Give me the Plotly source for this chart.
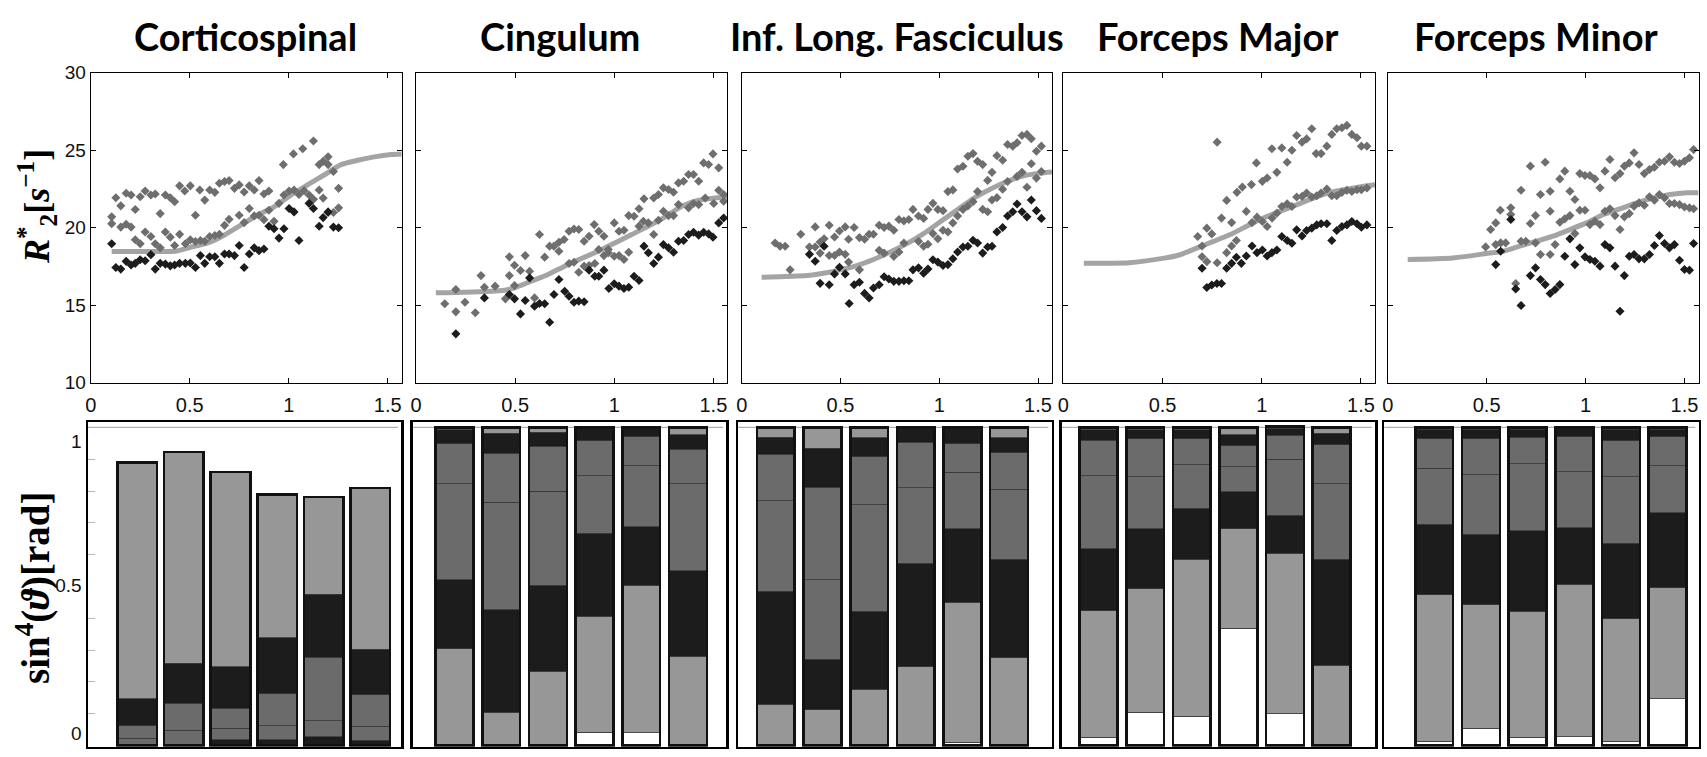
import plotly.graph_objects as go

TRACTS = ["Corticospinal", "Cingulum", "Inf. Long. Fasciculus", "Forceps Major", "Forceps Minor"]
TITLE_X_PX = [246, 560, 897, 1218, 1536]

# ---------------- top row: R2* vs angle ----------------
X_TICKS = [0, 0.5, 1, 1.5]
X_TICKTEXT = ["0", "0.5", "1", "1.5"]
Y_TICKS = [10, 15, 20, 25, 30]

cst_gray_x = [0.106,0.127,0.152,0.179,0.204,0.225,0.25,0.275,0.304,0.326,0.351,0.377,0.402,0.424,0.449,0.475,0.503,0.529,0.551,0.576,0.601,0.627,0.650,0.676,0.699,0.726,0.75,0.775,0.801,0.826,0.85,0.875,0.9,0.973,1.024,1.071,1.125,1.154,1.174,1.199,1.199,1.226,1.252,
              0.106,0.152,0.179,0.204,0.225,0.25,0.275,0.304,0.326,0.351,0.377,0.402,0.424,0.449,0.478,0.503,0.529,0.554,0.576,0.601,0.627,0.650,0.676,0.699,0.75,0.775,0.801,0.826,0.85,0.875,0.9,0.926,0.951,0.976,1.002,1.027,1.052,1.078,1.103,1.125,1.154,1.174,1.199,1.226,1.252]
cst_gray_y = [20.70,21.93,21.41,22.22,22.11,21.17,22.0,22.37,22.11,22.17,20.91,22.11,21.93,21.67,22.70,22.37,22.70,20.80,22.43,21.78,22.43,22.28,22.87,22.98,23.04,22.54,22.76,22.30,22.70,22.43,23.04,22.17,22.37,24.07,24.76,25.09,25.59,24.07,24.28,24.57,24.07,23.63,22.54,
              20.26,20.04,20.22,20.04,19.22,18.96,19.72,19.43,18.96,18.70,19.72,19.39,18.85,19.57,18.96,19.22,19.11,19.17,19.13,19.43,19.50,19.57,20.15,20.54,20.80,20.33,21.24,20.76,20.80,20.52,21.13,20.41,21.57,22.11,22.37,22.43,22.15,22.39,22.11,21.83,22.43,21.91,20.98,20.98,21.28]
cst_dark_x = [0.106,0.127,0.152,0.179,0.204,0.225,0.25,0.275,0.304,0.326,0.351,0.377,0.402,0.424,0.449,0.478,0.503,0.529,0.554,0.576,0.601,0.627,0.650,0.676,0.699,0.726,0.75,0.775,0.801,0.826,0.85,0.875,0.9,0.926,0.951,0.976,1.002,1.027,1.052,1.103,1.125,1.154,1.174,1.199,1.226,1.252]
cst_dark_y = [18.96,17.43,17.33,17.83,17.59,17.70,17.93,17.87,18.26,17.33,17.70,17.65,17.54,17.59,17.70,17.70,17.72,17.43,18.20,17.70,18.13,18.13,17.70,18.30,18.30,18.20,18.85,17.43,18.30,18.70,18.52,18.63,20.09,19.93,19.33,19.93,21.24,21.02,19.17,21.57,21.24,20.09,20.65,21.02,20.04,20.0]
cst_fit_x = [0.106,0.25,0.436,0.503,0.588,0.672,0.757,0.841,0.926,1.01,1.095,1.179,1.264,1.348,1.432,1.517,1.5708]
cst_fit_y = [18.46,18.46,18.50,18.74,19.0,19.5,20.15,20.8,21.35,22.1,22.76,23.4,24.07,24.35,24.57,24.72,24.76]

cing_gray_x = [0.145,0.201,0.201,0.247,0.299,0.328,0.345,0.399,0.451,0.471,0.471,0.497,0.497,0.527,0.551,0.573,0.598,0.623,0.649,0.674,0.696,0.721,0.721,0.747,0.772,0.772,0.797,0.797,0.821,0.821,0.848,0.848,0.873,0.873,0.899,0.902,0.922,0.922,0.948,0.948,0.970,0.970,1.0,1.0,1.024,1.024,1.049,1.049,1.073,1.073,1.100,1.125,1.125,1.150,1.147,1.172,1.199,1.199,1.223,1.223,1.248,1.248,1.274,1.274,1.299,1.299,1.324,1.324,1.350,1.375,1.375,1.400,1.400,1.426,1.426,1.451,1.459,1.476,1.498,1.502,1.527,1.527,1.552,1.552]
cing_gray_y = [15.09,16.01,14.57,15.19,14.51,16.91,16.16,16.23,15.41,18.12,16.91,17.58,16.27,17.24,18.20,17.19,15.47,19.56,18.10,18.81,18.81,18.48,19.06,19.24,19.77,17.69,19.92,17.77,19.88,17.13,19.13,17.52,19.45,17.56,20.20,17.69,19.77,18.59,19.45,18.20,18.59,18.38,20.31,18.16,19.77,18.20,19.84,17.95,20.78,18.42,20.74,21.22,20.10,21.86,20.42,20.31,21.92,19.56,22.14,20.48,22.57,21.06,22.46,20.78,22.29,20.78,22.89,21.49,23.0,23.43,21.28,23.43,21.56,23.0,21.49,24.18,21.92,24.08,24.76,21.56,23.86,22.42,22.14,21.71]
cing_dark_x = [0.201,0.345,0.471,0.497,0.527,0.551,0.573,0.598,0.623,0.649,0.674,0.696,0.721,0.750,0.772,0.797,0.821,0.848,0.873,0.902,0.922,0.948,0.973,1.0,1.024,1.049,1.073,1.100,1.125,1.150,1.172,1.199,1.223,1.248,1.274,1.299,1.324,1.350,1.375,1.400,1.426,1.451,1.476,1.498,1.527,1.552]
cing_dark_y = [13.15,15.47,15.69,15.41,14.44,15.30,16.76,14.94,15.11,15.09,13.90,15.69,16.66,15.90,15.58,15.19,15.26,15.22,17.26,16.87,16.87,17.26,16.08,16.38,16.23,16.08,16.16,16.87,16.59,18.81,18.38,17.69,18.10,18.91,18.70,18.42,19.13,19.17,19.56,19.71,19.52,19.71,19.60,19.39,20.31,20.63]
cing_fit_x = [0.1,0.243,0.446,0.497,0.581,0.666,0.75,0.834,0.919,1.003,1.088,1.172,1.257,1.341,1.426,1.51,1.5708]
cing_fit_y = [15.80,15.84,15.97,16.12,16.55,16.98,17.52,18.01,18.48,19.02,19.56,20.10,20.70,21.39,21.77,21.92,21.99]

ilf_gray_x = [0.169,0.194,0.220,0.245,0.299,0.343,0.372,0.372,0.397,0.397,0.417,0.443,0.443,0.470,0.470,0.495,0.495,0.524,0.524,0.541,0.569,0.541,0.596,0.596,0.622,0.645,0.667,0.696,0.696,0.721,0.721,0.745,0.770,0.770,0.796,0.796,0.821,0.821,0.846,0.867,0.895,0.895,0.921,0.921,0.943,0.943,0.968,0.968,0.993,0.993,1.019,1.019,1.044,1.044,1.069,1.069,1.093,1.093,1.120,1.120,1.145,1.145,1.171,1.171,1.194,1.194,1.220,1.220,1.245,1.245,1.267,1.267,1.292,1.292,1.321,1.321,1.346,1.346,1.372,1.394,1.394,1.419,1.419,1.444,1.444,1.466,1.466,1.492,1.492,1.517,1.517]
ilf_gray_y = [19.01,18.80,18.80,17.28,19.58,18.75,20.05,18.75,19.08,18.36,19.29,20.16,18.21,18.21,19.40,19.79,18.43,20.05,18.28,17.78,20.01,19.25,19.36,17.28,19.25,19.58,19.58,20.16,18.54,20.01,18.36,20.10,19.84,18.15,20.53,18.43,20.44,19.01,20.53,21.18,20.75,19.12,20.60,18.80,21.18,18.93,21.57,19.62,21.18,19.29,21.10,19.84,22.33,19.73,22.44,20.31,23.79,20.75,23.96,21.18,24.61,21.40,24.78,21.68,24.28,22.33,24.07,21.18,23.05,21.03,23.57,21.79,24.65,21.94,24.35,22.48,25.37,22.98,25.26,25.48,23.31,25.95,23.57,26.02,22.61,25.74,24.13,24.93,23.20,25.26,23.63]
ilf_dark_x = [0.343,0.372,0.397,0.417,0.443,0.470,0.495,0.524,0.544,0.569,0.596,0.622,0.645,0.667,0.696,0.721,0.745,0.770,0.796,0.821,0.846,0.867,0.895,0.921,0.943,0.968,0.993,1.019,1.044,1.069,1.093,1.120,1.145,1.171,1.194,1.220,1.245,1.267,1.292,1.321,1.346,1.372,1.394,1.419,1.444,1.466,1.492,1.517]
ilf_dark_y = [18.28,17.84,16.41,18.80,16.32,17.02,17.45,17.02,15.11,16.32,16.48,15.76,15.46,16.11,16.32,16.84,16.69,16.54,16.54,16.58,16.58,17.28,17.41,17.06,17.34,17.93,17.78,17.56,17.62,18.0,18.43,18.75,18.80,19.19,19.01,18.36,18.75,18.80,19.73,20.01,20.75,21.03,21.53,21.03,20.70,21.79,21.10,20.60]
ilf_fit_x = [0.101,0.329,0.414,0.498,0.583,0.667,0.752,0.836,0.921,1.005,1.090,1.174,1.258,1.343,1.427,1.512,1.5708]
ilf_fit_y = [16.80,16.91,17.06,17.28,17.56,17.95,18.43,18.97,19.62,20.38,21.14,21.90,22.48,22.98,23.35,23.52,23.59]

fmaj_gray_x = [0.677,0.699,0.699,0.723,0.723,0.748,0.775,0.775,0.797,0.823,0.823,0.848,0.848,0.872,0.875,0.902,0.922,0.948,0.951,0.973,0.976,1.003,1.003,1.027,1.027,1.051,1.052,1.076,1.076,1.101,1.101,1.128,1.128,1.152,1.152,1.176,1.176,1.203,1.203,1.226,1.226,1.252,1.252,1.274,1.277,1.299,1.299,1.328,1.328,1.353,1.353,1.378,1.378,1.404,1.404,1.429,1.429,1.454,1.454,1.480,1.480,1.502,1.502,1.530,1.530]
fmaj_gray_y = [19.43,18.82,18.13,19.97,17.81,19.60,25.52,17.74,20.62,21.76,18.39,20.33,18.82,19.17,22.28,22.62,21.05,22.78,20.33,24.18,20.68,22.99,20.40,23.21,20.08,25.09,20.62,23.57,20.94,25.15,21.37,24.22,21.54,25.0,21.37,25.95,21.98,25.52,22.02,25.73,22.24,26.38,21.98,24.78,22.06,24.78,22.24,25.26,22.49,26.02,22.06,26.38,22.06,26.45,22.28,26.60,22.41,26.02,22.34,25.80,22.45,25.26,22.45,25.26,22.56]
fmaj_dark_x = [0.699,0.723,0.748,0.774,0.797,0.823,0.848,0.872,0.897,0.922,0.951,0.976,1.003,1.027,1.051,1.076,1.101,1.128,1.152,1.176,1.203,1.226,1.252,1.277,1.299,1.328,1.353,1.378,1.404,1.429,1.454,1.480,1.502,1.530]
fmaj_dark_y = [17.38,16.14,16.30,16.40,16.40,17.38,17.70,18.09,17.70,18.17,18.82,18.39,18.56,18.17,18.39,18.56,19.43,19.17,19.0,19.86,19.47,19.82,19.97,20.18,20.25,20.25,19.17,19.82,20.08,20.18,20.40,20.25,20.03,20.18]
fmaj_fit_x = [0.103,0.331,0.5,0.584,0.669,0.753,0.838,0.922,1.007,1.091,1.176,1.260,1.345,1.429,1.514,1.5708]
fmaj_fit_y = [17.70,17.74,18.02,18.24,18.67,19.10,19.54,20.08,20.62,21.05,21.48,21.91,22.28,22.49,22.67,22.78]

fmin_gray_x = [0.495,0.520,0.546,0.546,0.569,0.571,0.596,0.622,0.622,0.647,0.674,0.674,0.698,0.721,0.721,0.747,0.747,0.772,0.772,0.796,0.821,0.821,0.821,0.846,0.870,0.870,0.895,0.895,0.921,0.921,0.946,0.946,0.971,0.971,0.997,0.997,1.022,1.022,1.047,1.047,1.073,1.073,1.098,1.098,1.123,1.123,1.149,1.149,1.174,1.174,1.196,1.196,1.221,1.221,1.245,1.245,1.270,1.270,1.297,1.297,1.323,1.323,1.348,1.348,1.373,1.373,1.399,1.399,1.424,1.424,1.449,1.449,1.475,1.475,1.5,1.5,1.525,1.525,1.546,1.546]
fmin_gray_y = [18.76,19.88,20.31,18.91,21.13,19.02,19.02,21.28,20.85,16.40,22.42,19.13,19.13,23.97,20.27,20.78,19.02,22.14,18.27,24.22,22.35,21.06,18.27,18.91,23.15,20.35,23.65,20.57,22.35,20.78,21.82,19.62,23.49,21.13,23.37,21.13,23.37,20.20,23.15,20.42,22.57,20.20,23.65,21.06,24.40,21.22,23.22,20.78,23.49,19.88,23.97,20.70,24.18,20.91,24.83,21.39,24.08,21.60,23.49,21.45,23.75,21.99,23.90,21.77,24.22,22.14,24.29,21.92,24.57,21.56,24.22,21.56,24.14,21.49,24.29,21.34,24.51,21.28,25.04,21.22]
fmin_dark_x = [0.546,0.571,0.622,0.647,0.674,0.721,0.747,0.772,0.796,0.821,0.846,0.870,0.895,0.921,0.946,0.971,0.997,1.022,1.047,1.073,1.098,1.123,1.149,1.174,1.196,1.221,1.245,1.270,1.297,1.323,1.348,1.373,1.399,1.424,1.449,1.475,1.5,1.525,1.546]
fmin_dark_y = [17.62,18.48,20.53,16.05,14.98,16.91,17.41,16.66,16.33,15.75,16.01,16.33,18.16,19.28,17.62,18.70,18.12,17.95,17.84,17.52,18.91,18.70,17.52,14.61,16.91,18.16,18.27,17.99,17.99,18.27,18.85,19.49,18.98,18.70,18.91,17.90,17.30,17.26,18.98]
fmin_fit_x = [0.101,0.329,0.498,0.583,0.667,0.752,0.836,0.921,1.005,1.090,1.174,1.258,1.343,1.427,1.512,1.5708]
fmin_fit_y = [17.95,18.05,18.33,18.48,18.81,19.13,19.45,19.88,20.31,20.85,21.22,21.60,21.92,22.14,22.25,22.25]

# ---------------- bottom row: stacked angle distributions ----------------
BAR_POS = [1, 2, 3, 4, 5, 6]
BAR_TICKVALS = [0.038, 0.504, 0.955]
BAR_TICKTEXT = ["0", "0.5", "1"]
BAR_MINOR = [0.1, 0.2, 0.3, 0.4, 0.6, 0.7, 0.8, 0.9]

# layers listed bottom -> top
cst_layers = [
    [0, 0, 0.018, 0.018, 0.028, 0.016],
    [0.023, 0.047, 0.036, 0.044, 0.050, 0.045],
    [0.039, 0.085, 0.063, 0.100, 0.200, 0.098],
    [0.085, 0.127, 0.130, 0.177, 0.197, 0.143],
    [0.742, 0.664, 0.613, 0.450, 0.306, 0.508],
]
cing_layers = [
    [0, 0, 0, 0.042, 0.040, 0],
    [0.304, 0.104, 0.233, 0.364, 0.464, 0.281],
    [0.217, 0.323, 0.270, 0.261, 0.1835, 0.269],
    [0.302, 0.337, 0.296, 0.181, 0.1925, 0.273],
    [0.125, 0.155, 0.141, 0.110, 0.091, 0.109],
    [0.044, 0.062, 0.044, 0.042, 0.029, 0.045],
    [0.008, 0.019, 0.016, 0, 0, 0.023],
]
ilf_layers = [
    [0, 0, 0, 0, 0.010, 0],
    [0.129, 0.1125, 0.177, 0.247, 0.44, 0.275],
    [0.355, 0.1585, 0.245, 0.326, 0.231, 0.31],
    [0.285, 0.25, 0.334, 0.237, 0.178, 0.22],
    [0.146, 0.29, 0.152, 0.143, 0.089, 0.116],
    [0.054, 0.123, 0.059, 0.047, 0.052, 0.046],
    [0.031, 0.066, 0.033, 0, 0, 0.033],
]
fmaj_layers = [
    [0.026, 0.104, 0.092, 0.368, 0.099, 0],
    [0.397, 0.388, 0.493, 0.314, 0.505, 0.252],
    [0.195, 0.19, 0.16, 0.115, 0.12, 0.333],
    [0.23, 0.162, 0.137, 0.08, 0.176, 0.238],
    [0.112, 0.12, 0.082, 0.066, 0.076, 0.123],
    [0.032, 0.028, 0.028, 0.034, 0.021, 0.035],
    [0.008, 0.008, 0.008, 0.023, 0.005, 0.019],
]
fmin_layers = [
    [0.0125, 0.054, 0.026, 0.028, 0.0125, 0.146],
    [0.4615, 0.389, 0.396, 0.479, 0.3855, 0.349],
    [0.222, 0.221, 0.253, 0.178, 0.237, 0.236],
    [0.176, 0.187, 0.21, 0.176, 0.209, 0.149],
    [0.092, 0.113, 0.084, 0.11, 0.114, 0.091],
    [0.03, 0.03, 0.025, 0.029, 0.036, 0.023],
    [0.006, 0.006, 0.006, 0, 0.006, 0.006],
]

WHITE, LIGHT, MED, DARK = "#ffffff", "#979797", "#6b6b6b", "#1c1c1c"
CST_COLORS = [DARK, MED, MED, DARK, LIGHT]
STD_COLORS = [WHITE, LIGHT, DARK, MED, MED, DARK, LIGHT]

scatter_sets = [
    (cst_gray_x, cst_gray_y, cst_dark_x, cst_dark_y, cst_fit_x, cst_fit_y),
    (cing_gray_x, cing_gray_y, cing_dark_x, cing_dark_y, cing_fit_x, cing_fit_y),
    (ilf_gray_x, ilf_gray_y, ilf_dark_x, ilf_dark_y, ilf_fit_x, ilf_fit_y),
    (fmaj_gray_x, fmaj_gray_y, fmaj_dark_x, fmaj_dark_y, fmaj_fit_x, fmaj_fit_y),
    (fmin_gray_x, fmin_gray_y, fmin_dark_x, fmin_dark_y, fmin_fit_x, fmin_fit_y),
]
bar_sets = [
    (cst_layers, CST_COLORS),
    (cing_layers, STD_COLORS),
    (ilf_layers, STD_COLORS),
    (fmaj_layers, STD_COLORS),
    (fmin_layers, STD_COLORS),
]

# ---------------- layout geometry (pixels) ----------------
W, H = 1707, 757
TOP_X = [(90.7, 401.7), (416, 727.4), (741.7, 1052), (1063.4, 1375), (1387.7, 1698.5)]
BOT_X = [(88, 401), (412.6, 726.2), (738, 1051.5), (1061.7, 1375), (1384.3, 1698.5)]
TOP_Y = (72.7, 382.7)
BOT_Y = (422.3, 746.7)
BAR_RANGES = [(-0.06, 6.66), (0.10, 6.82), (0.19, 6.91), (0.21, 6.93), (-0.07, 6.66)]
BAR_WIDTHS = [0.85, 0.81, 0.81, 0.81, 0.81]
BAR_YRANGE = [-0.004, 1.016]


def px_dom_x(a, b):
    return [a / W, b / W]


def px_dom_y(top, bottom):
    return [1 - bottom / H, 1 - top / H]


TICK_FONT = dict(family="Liberation Sans Narrow, Arial Narrow, Liberation Sans, Arial", size=19, color="#111")

fig = go.Figure()
layout = dict(
    template="none",
    width=W, height=H, margin=dict(l=0, r=0, t=0, b=0, autoexpand=False),
    paper_bgcolor="white", plot_bgcolor="white",
    barmode="stack", showlegend=False, bargap=0,
)
shapes = []
annotations = []

for i in range(5):
    t = i + 1
    b = i + 6
    o = i + 11  # overlay axis for bar outlines
    gx, gy, dx, dy, fx, fy = scatter_sets[i]
    fig.add_trace(go.Scatter(x=fx, y=fy, mode="lines", xaxis=f"x{t}", yaxis=f"y{t}",
                             line=dict(color="#a4a4a4", width=5, shape="spline", smoothing=0.6),
                             hoverinfo="skip"))
    fig.add_trace(go.Scatter(x=gx, y=gy, mode="markers", xaxis=f"x{t}", yaxis=f"y{t}",
                             marker=dict(symbol="diamond", size=7, color="#6e6e6e", line=dict(width=0)),
                             hoverinfo="skip"))
    fig.add_trace(go.Scatter(x=dx, y=dy, mode="markers", xaxis=f"x{t}", yaxis=f"y{t}",
                             marker=dict(symbol="diamond", size=7, color="#1c1c1c", line=dict(width=0)),
                             hoverinfo="skip"))

    layout[f"xaxis{t}"] = dict(
        domain=px_dom_x(*TOP_X[i]), anchor=f"y{t}", range=[0, 1.5708], automargin=False,
        tickmode="array", tickvals=X_TICKS, ticktext=X_TICKTEXT,
        ticks="inside", ticklen=5, tickcolor="#000", showline=True, linecolor="#000",
        linewidth=1, mirror="ticks", showgrid=False, zeroline=False,
        tickfont=dict(TICK_FONT, size=20), ticklabelstandoff=4,
    )
    layout[f"yaxis{t}"] = dict(
        domain=px_dom_y(*TOP_Y), anchor=f"x{t}", range=[10, 30], automargin=False,
        tickmode="array", tickvals=Y_TICKS, ticks="inside", ticklen=5, tickcolor="#000",
        showline=True, linecolor="#000", linewidth=1, mirror="ticks", showgrid=False,
        zeroline=False, showticklabels=(i == 0), tickfont=TICK_FONT,
    )

    layers, colors = bar_sets[i]
    for vals, col in zip(layers, colors):
        fig.add_trace(go.Bar(x=BAR_POS, y=vals, xaxis=f"x{b}", yaxis=f"y{b}",
                             marker=dict(color=col, line=dict(color="#3a3a3a", width=0.8)),
                             width=BAR_WIDTHS[i], hoverinfo="skip"))
    totals = [sum(col) for col in zip(*layers)]
    fig.add_trace(go.Bar(x=BAR_POS, y=totals, xaxis=f"x{b}", yaxis=f"y{o}",
                         marker=dict(color="rgba(0,0,0,0)", line=dict(color="#111", width=2.6)),
                         width=BAR_WIDTHS[i], hoverinfo="skip"))

    layout[f"xaxis{b}"] = dict(
        domain=px_dom_x(*BOT_X[i]), anchor=f"y{b}", range=list(BAR_RANGES[i]), automargin=False,
        showticklabels=False, ticks="", showline=True, linecolor="#000", linewidth=2.5,
        mirror=True, showgrid=False, zeroline=False,
    )
    ydict = dict(
        domain=px_dom_y(*BOT_Y), anchor=f"x{b}", range=BAR_YRANGE, automargin=False,
        showline=True, linecolor="#000", linewidth=2.5, mirror=True, showgrid=False,
        zeroline=False, ticks="",
    )
    if i == 0:
        ydict.update(tickmode="array", tickvals=BAR_TICKVALS, ticktext=BAR_TICKTEXT,
                     showticklabels=True, tickfont=TICK_FONT,
                     minor=dict(tickmode="array", tickvals=BAR_MINOR, ticks="inside",
                                ticklen=7, tickcolor="#b5b5b5", tickwidth=1, showgrid=False))
    else:
        ydict.update(showticklabels=False)
    layout[f"yaxis{b}"] = ydict
    layout[f"yaxis{o}"] = dict(overlaying=f"y{b}", anchor=f"x{b}", range=BAR_YRANGE,
                               visible=False, showgrid=False, zeroline=False, automargin=False)

    shapes.append(dict(type="line", xref=f"x{b} domain", yref=f"y{b}", x0=0.0, x1=0.99,
                       y0=1.0, y1=1.0, line=dict(color="#b0b0b0", width=1.2), layer="below"))

    annotations.append(dict(text=TRACTS[i], x=TITLE_X_PX[i] / W, y=1 - 36 / H, xref="paper", yref="paper",
                            showarrow=False, xanchor="center", yanchor="middle",
                            font=dict(family="Lato, Open Sans, sans-serif", size=38, color="#000", weight=700)))

annotations.append(dict(text="<i>R</i><sup>*</sup><sub>2</sub>[<i>s</i><sup>−1</sup>]",
                        x=37 / W, y=1 - 207 / H, xref="paper", yref="paper", textangle=-90,
                        showarrow=False, xanchor="center", yanchor="middle",
                        font=dict(family="Liberation Serif, DejaVu Serif, serif", size=36, color="#000", weight=700)))
annotations.append(dict(text="sin<sup>4</sup>(<i>ϑ</i>)[rad]",
                        x=33 / W, y=1 - 588 / H, xref="paper", yref="paper", textangle=-90,
                        showarrow=False, xanchor="center", yanchor="middle",
                        font=dict(family="Liberation Serif, DejaVu Serif, serif", size=39, color="#000", weight=700)))

layout["shapes"] = shapes
layout["annotations"] = annotations
fig.update_layout(**layout)
fig.write_html("out.html", config={"displayModeBar": False, "staticPlot": True},
               post_script="document.body.style.margin='0';document.body.style.overflow='hidden';")
